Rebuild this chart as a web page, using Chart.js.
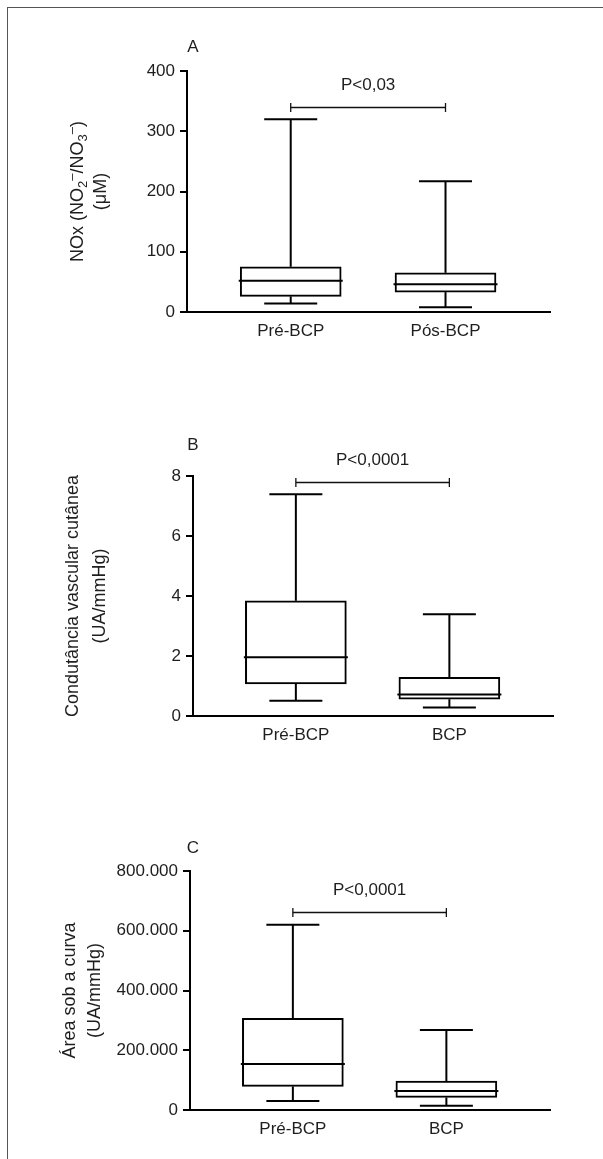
<!DOCTYPE html>
<html>
<head>
<meta charset="utf-8">
<script src="https://cdn.jsdelivr.net/npm/chart.js@4.4.1/dist/chart.umd.min.js"></script>
<style>
body { margin: 0; background: #fff; width: 603px; height: 1159px; position: relative; overflow: hidden; }
#frame { position: absolute; left: 7px; top: 7px; width: 620px; height: 1170px; border-top: 1px solid #555; border-left: 1px solid #555; }
canvas { position: absolute; left: 0; }
</style>
</head>
<body>
<div id="frame"></div>
<canvas id="chartA" width="603" height="350" style="top:0px"></canvas>
<canvas id="chartB" width="603" height="354" style="top:400px"></canvas>
<canvas id="chartC" width="603" height="348" style="top:800px"></canvas>
<script>
// panel A - NOx
var catsA = ['Pré-BCP', 'Pós-BCP'];
var minA = [14, 8];
var q1A = [26, 33];
var medA = [52, 46];
var q3A = [75, 65];
var maxA = [320, 217];
var ticksA = [0, 100, 200, 300, 400];
var tickLabelsA = ['0', '100', '200', '300', '400'];
var pTextA = 'P<0,03';
var pLevelA = 340;

// panel B - condutancia
var catsB = ['Pré-BCP', 'BCP'];
var minB = [0.51, 0.28];
var q1B = [1.07, 0.56];
var medB = [1.96, 0.72];
var q3B = [3.84, 1.29];
var maxB = [7.39, 3.39];
var ticksB = [0, 2, 4, 6, 8];
var tickLabelsB = ['0', '2', '4', '6', '8'];
var pTextB = 'P<0,0001';
var pLevelB = 7.79;

// panel C - area sob a curva
var catsC = ['Pré-BCP', 'BCP'];
var minC = [30000, 14000];
var q1C = [79000, 42000];
var medC = [154000, 64000];
var q3C = [307000, 97000];
var maxC = [620000, 268000];
var ticksC = [0, 200000, 400000, 600000, 800000];
var tickLabelsC = ['0', '200.000', '400.000', '600.000', '800.000'];
var pTextC = 'P<0,0001';
var pLevelC = 663000;

var FONT = '"Liberation Sans", Arial, sans-serif';
Chart.defaults.font.family = FONT;
Chart.defaults.font.size = 17;
Chart.defaults.color = '#1e1e1e';

function line(ctx, x1, y1, x2, y2) {
  ctx.beginPath();
  ctx.moveTo(x1, y1);
  ctx.lineTo(x2, y2);
  ctx.stroke();
}

// rotated axis title, segs = [text, size, shift]
function drawTitle(ctx, x, yMid, segs) {
  ctx.save();
  ctx.translate(x, yMid);
  ctx.rotate(-Math.PI / 2);
  ctx.textBaseline = 'middle';
  ctx.textAlign = 'left';
  var total = 0;
  segs.forEach(function(s) {
    ctx.font = s[1] + 'px ' + FONT;
    total += ctx.measureText(s[0]).width;
  });
  var pos = -total / 2;
  segs.forEach(function(s) {
    ctx.font = s[1] + 'px ' + FONT;
    ctx.fillText(s[0], pos, s[2]);
    pos += ctx.measureText(s[0]).width;
  });
  ctx.restore();
}

var boxExtras = {
  id: 'boxExtras',
  afterDatasetsDraw: function(chart, args, o) {
    var ctx = chart.ctx, xs = chart.scales.x, ys = chart.scales.y;
    var area = chart.chartArea;
    ctx.save();
    ctx.strokeStyle = '#000';
    ctx.lineWidth = 2;
    for (var i = 0; i < o.medians.length; i++) {
      var cx = xs.getPixelForValue(i + 1);
      var yMax = ys.getPixelForValue(o.maxs[i]);
      var yMin = ys.getPixelForValue(o.mins[i]);
      line(ctx, cx, ys.getPixelForValue(o.q3[i]), cx, yMax);
      line(ctx, cx, ys.getPixelForValue(o.q1[i]), cx, yMin);
      line(ctx, cx - 26.5, yMax, cx + 26.5, yMax);
      line(ctx, cx - 26.5, yMin, cx + 26.5, yMin);
      var yMed = ys.getPixelForValue(o.medians[i]);
      line(ctx, cx - 52, yMed, cx + 52, yMed);
    }

    // significance bracket
    var x1 = xs.getPixelForValue(1), x2 = xs.getPixelForValue(2);
    var yb = Math.round(ys.getPixelForValue(o.pLevel)) + 0.5;
    ctx.lineWidth = 1.3;
    ctx.strokeStyle = '#111';
    line(ctx, x1, yb, x2, yb);
    line(ctx, x1, yb - 4.5, x1, yb + 4.5);
    line(ctx, x2, yb - 4.5, x2, yb + 4.5);

    ctx.fillStyle = '#1e1e1e';
    ctx.font = '17px ' + FONT;
    ctx.textAlign = 'center';
    ctx.textBaseline = 'middle';
    ctx.fillText(o.pText, (x1 + x2) / 2, yb - 22);

    // panel letter
    ctx.fillText(o.letter, 193, area.top - o.letterGap);

    var yMid = (area.top + area.bottom) / 2;
    o.titles.forEach(function(t) {
      drawTitle(ctx, area.left - t.dx, yMid, t.segs);
    });
    ctx.restore();
  }
};

function makePanel(id, cats, mins, q1, meds, q3, maxs, ticks, tickLabels, pText, pLevel, layout) {
  var boxes = cats.map(function(c, i) {
    return { x: i + 1, y: [q1[i], q3[i]] };
  });
  return new Chart(document.getElementById(id), {
    type: 'bar',
    data: {
      datasets: [{
        data: boxes,
        backgroundColor: '#fff',
        borderColor: '#000',
        borderWidth: 2,
        borderSkipped: false,
        barThickness: 101
      }]
    },
    options: {
      responsive: false,
      animation: false,
      events: [],
      layout: { padding: { top: layout.top, right: layout.right, bottom: 0, left: 0 } },
      scales: {
        x: {
          type: 'linear',
          min: 0.33,
          max: 2.675,
          offset: false,
          grid: { display: false, drawTicks: false },
          border: { color: '#000', width: 2 },
          afterBuildTicks: function(s) {
            s.ticks = cats.map(function(c, i) { return { value: i + 1 }; });
          },
          afterFit: function(s) { s.height = 38; },
          ticks: {
            padding: 9,
            maxRotation: 0,
            callback: function(v) { return cats[v - 1]; }
          }
        },
        y: {
          min: ticks[0],
          max: ticks[ticks.length - 1],
          grid: { drawOnChartArea: false, tickLength: 7, lineWidth: 2, color: '#000' },
          border: { color: '#000', width: 2 },
          afterBuildTicks: function(s) {
            s.ticks = ticks.map(function(v) { return { value: v }; });
          },
          afterFit: function(s) { s.width = layout.left; },
          ticks: {
            padding: 5,
            callback: function(v) { return tickLabels[ticks.indexOf(v)]; }
          }
        }
      },
      plugins: {
        legend: { display: false },
        tooltip: { enabled: false },
        boxExtras: {
          mins: mins, q1: q1, medians: meds, q3: q3, maxs: maxs,
          pText: pText, pLevel: pLevel,
          letter: layout.letter, letterGap: layout.letterGap,
          titles: layout.titles
        }
      }
    },
    plugins: [boxExtras]
  });
}

makePanel('chartA', catsA, minA, q1A, medA, q3A, maxA, ticksA, tickLabelsA, pTextA, pLevelA, {
  top: 71, right: 53, left: 187, letter: 'A', letterGap: 24,
  titles: [
    { dx: 109, segs: [['NOx (NO', 18, 0], ['2', 13, 5], ['–', 13, -6], ['/NO', 18, 0], ['3', 13, 5], ['–', 13, -6], [')', 18, 0]] },
    { dx: 86, segs: [['(μM)', 18, 0]] }
  ]
});

makePanel('chartB', catsB, minB, q1B, medB, q3B, maxB, ticksB, tickLabelsB, pTextB, pLevelB, {
  top: 76, right: 50, left: 193, letter: 'B', letterGap: 31,
  titles: [
    { dx: 120, segs: [['Condutância vascular cutânea', 18, 0]] },
    { dx: 93, segs: [['(UA/mmHg)', 18, 0]] }
  ]
});

makePanel('chartC', catsC, minC, q1C, medC, q3C, maxC, ticksC, tickLabelsC, pTextC, pLevelC, {
  top: 71, right: 53, left: 190, letter: 'C', letterGap: 23,
  titles: [
    { dx: 120, segs: [['Área sob a curva', 18, 0]] },
    { dx: 95, segs: [['(UA/mmHg)', 18, 0]] }
  ]
});
</script>
</body>
</html>
